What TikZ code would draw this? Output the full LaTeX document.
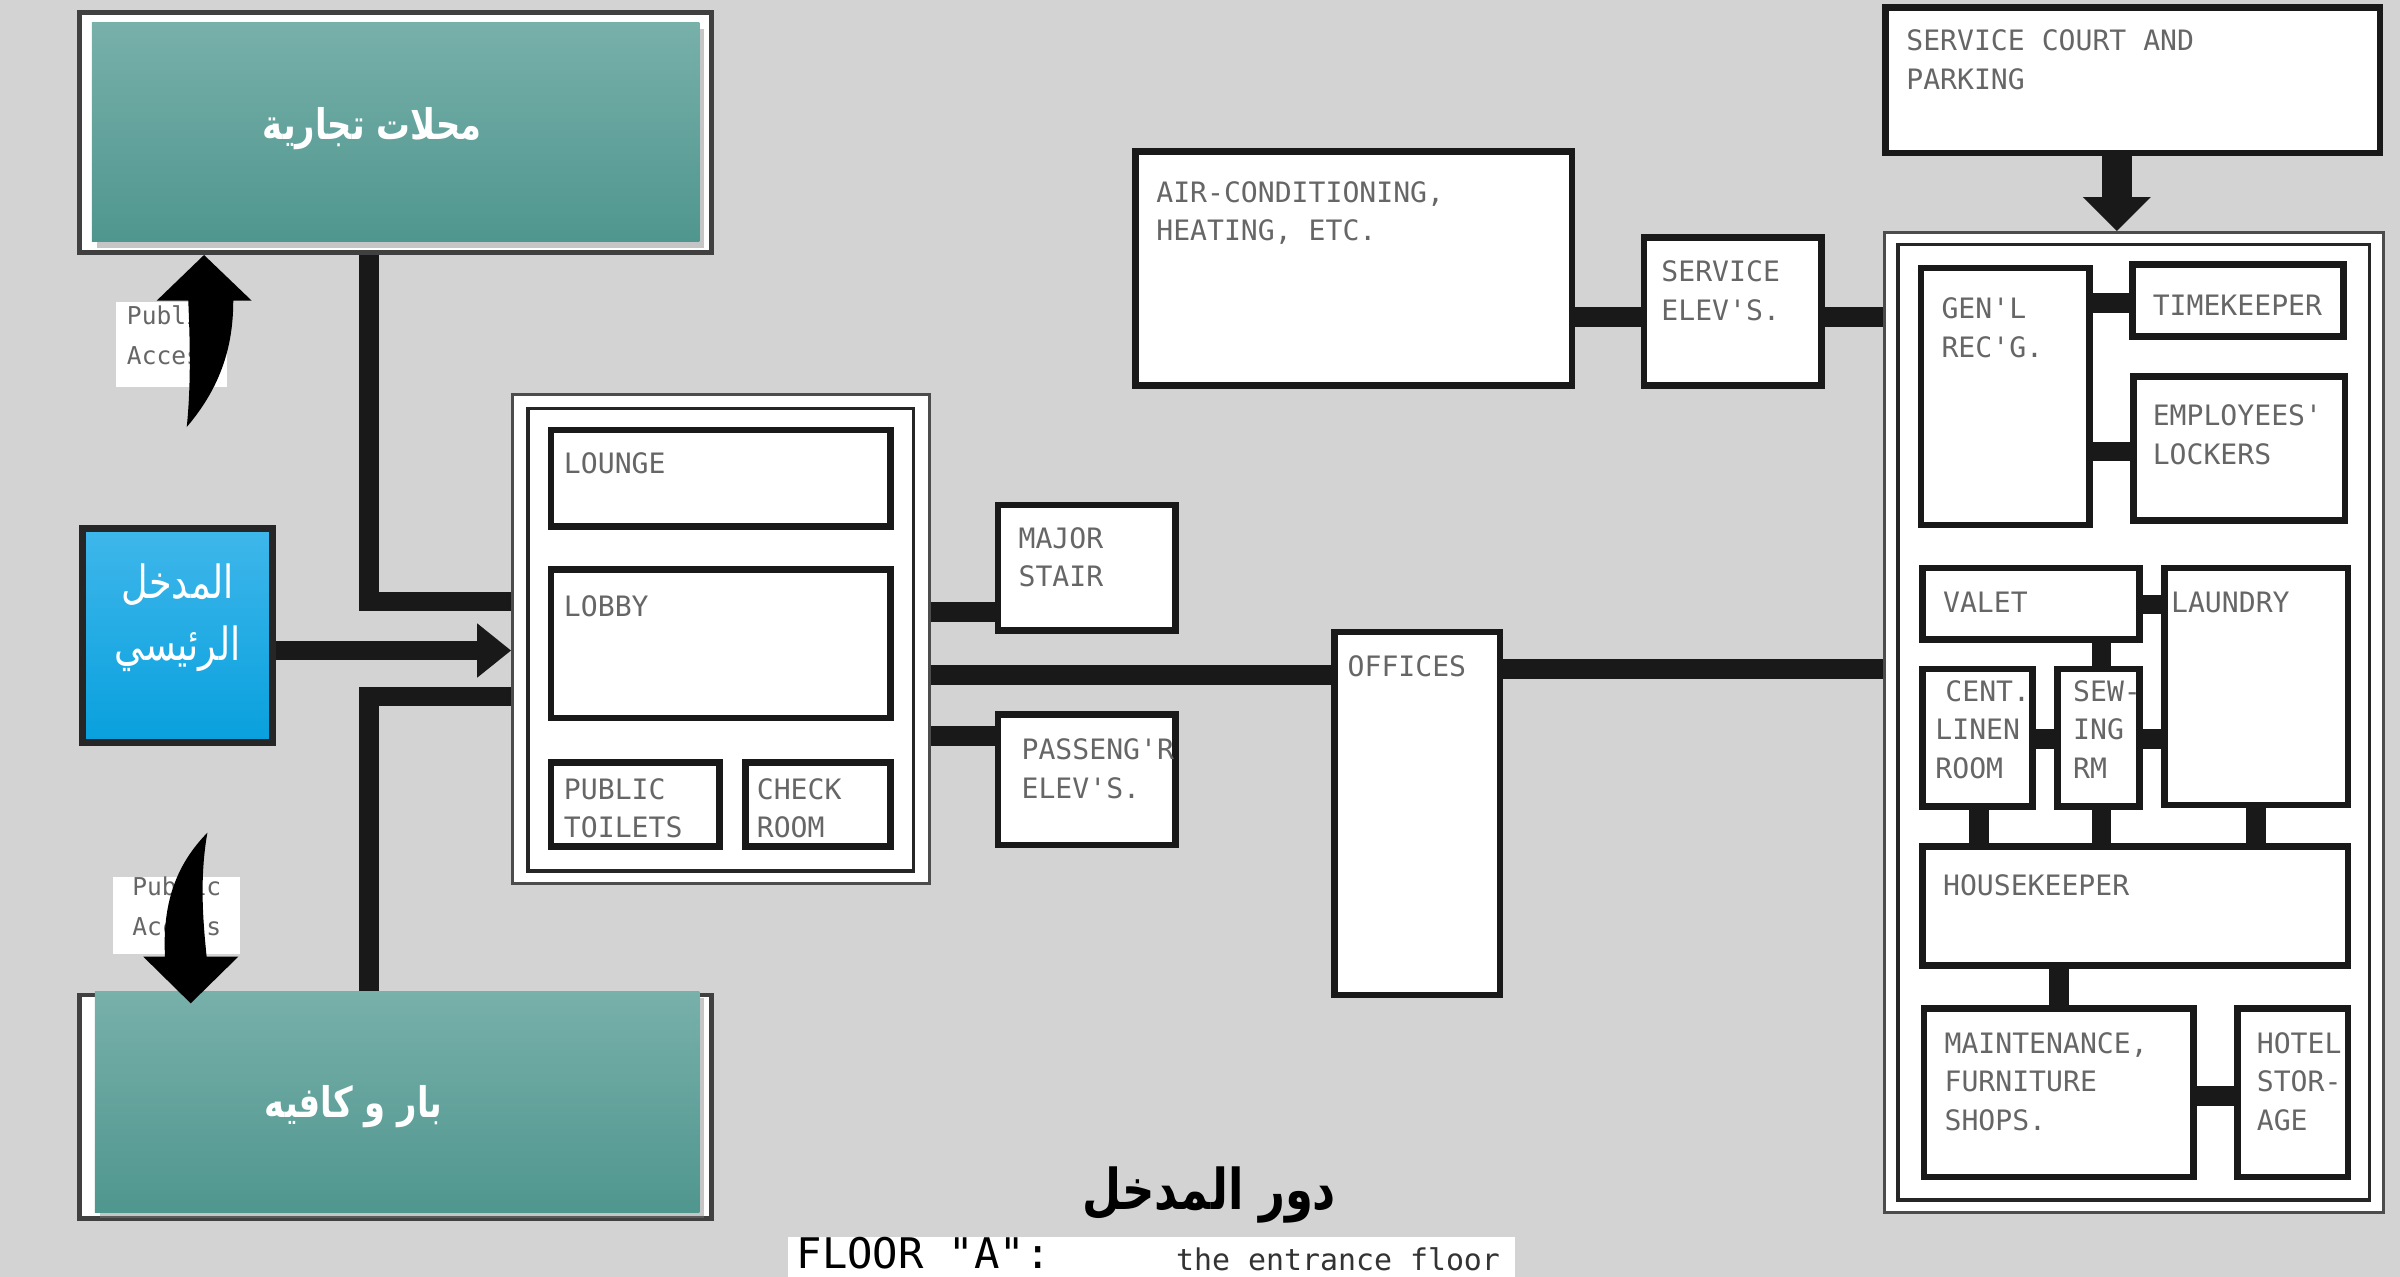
\documentclass[tikz,border=0pt]{standalone}
\usepackage{fontspec}
\usetikzlibrary{fit,arrows.meta,shadows}
\TeXXeTstate=1
\newfontfamily\arabicfont[Script=Arabic, FakeStretch=0.8]{DejaVu Sans}
\newfontfamily\planfont{DejaVu Sans Mono}

\definecolor{groundgray}{HTML}{D3D3D3}
\definecolor{tealtop}{HTML}{78B0AA}
\definecolor{tealbot}{HTML}{4F968F}
\definecolor{bluetop}{HTML}{3FB7EB}
\definecolor{bluebot}{HTML}{08A0DD}

\tikzset{
    room/.style={draw=black!90, line width=1.9pt, fill=white, inner sep=0pt},
    frame/.style={draw=black!70, line width=0.9pt, fill=white, inner sep=0pt},
    tag/.style={anchor=north west, inner sep=0pt, align=left, text=black!60,
        font=\planfont\fontsize{8}{11}\selectfont},
    link/.style={draw=black!90, line width=5.6pt},
    shopbox/.style={inner sep=0pt, top color=tealtop, bottom color=tealbot,
        drop shadow={shadow xshift=0.5mm, shadow yshift=-0.6mm, opacity=0.45}},
    entrybox/.style={draw=black!85, line width=2pt, inner sep=0pt, top color=bluetop,
        bottom color=bluebot, text=white, align=left,
        font=\arabicfont\fontsize{13}{17.8}\selectfont},
    arabtag/.style={text=white, inner sep=0pt, font=\arabicfont\bfseries\fontsize{12}{14}\selectfont},
    access/.style={fill=white, inner sep=0pt, align=center, text=black!60,
        font=\planfont\fontsize{7}{11.3}\selectfont},
}

\begin{document}
\begin{tikzpicture}[x=0.15306mm, y=-0.15306mm]
    \clip (0,0) rectangle (1568,834);
    \fill[groundgray] (0,0) rectangle (1568,834);

    % levels of the connecting bands
    \coordinate (spine) at (241,0);
    \coordinate (lv-lounge) at (0,393);
    \coordinate (lv-entry) at (0,425);
    \coordinate (lv-bar) at (0,455);
    \coordinate (lv-stair) at (0,400);
    \coordinate (lv-office) at (0,441);
    \coordinate (lv-lift) at (0,481);
    \coordinate (lv-service) at (0,437);
    \coordinate (lv-plant) at (0,207);
    \coordinate (court-x) at (1383,0);

    % shops, bar and main entrance
    \node[frame, draw=black!75, line width=1.3pt, fit={(52,8) (465,165)}] (shopsfr) {};
    \node[frame, draw=black!75, line width=1.3pt, fit={(52,650) (465,796)}] (barfr) {};
    \node[frame, fit={(335,258) (607,577)}] (lobbyfr) {};
    \node[frame, draw=black!85, fit={(345,267) (597,569)}] (lobbyin) {};
    \draw[link] (shopsfr.south -| spine) |- (lobbyfr.west |- lv-lounge);
    \draw[link] (barfr.north -| spine) |- (lobbyfr.west |- lv-bar);
    \node[shopbox, fit={(60,15) (457,158)}] (shops) {};
    \node[shopbox, fit={(62,648) (457,792)}] (bar) {};
    \node[arabtag] (shops-t) at (243,84) {\beginR محلات تجارية\endR};
    \node[arabtag] (bar-t) at (231,723) {\beginR بار و كافيه\endR};
    \node[entrybox, fit={(54,345) (178,485)}] (entrance) {\beginR المدخل\endR\\\beginR الرئيسي\endR};

    % public access notes
    \node[access, fit={(76,197) (148,253)}] (pa-up) {Public\\Access};
    \node[access, fit={(74,573) (157,623)}] (pa-down) {Public\\Access};

    % lobby group
    \node[room, fit={(360,281) (582,344)}] (lounge) {};
    \node[room, fit={(360,372) (582,469)}] (lobby) {};
    \node[room, fit={(360,498) (470,553)}] (toilets) {};
    \node[room, fit={(487,498) (582,553)}] (checkroom) {};
    \node[room, fit={(652,330) (768,412)}] (stair) {};
    \node[room, fit={(652,467) (768,552)}] (lifts) {};
    \node[room, fit={(872,413) (980,650)}] (offices) {};

    \draw[link, -{Triangle[length=3.4mm, width=5.2mm]}] (entrance.east |- lv-entry) -- (lobbyfr.west |- lv-entry);
    \draw[link] (lobbyfr.east |- lv-stair) -- (stair.west |- lv-stair);
    \draw[link] (lobbyfr.east |- lv-office) -- (offices.west |- lv-office);
    \draw[link] (lobbyfr.east |- lv-lift) -- (lifts.west |- lv-lift);

    % plant and service lifts
    \node[room, fit={(742,99) (1027,252)}] (aircon) {};
    \node[room, fit={(1074,155) (1190,252)}] (svclift) {};
    \node[room, fit={(1232,5) (1555,100)}] (court) {};

    % service group
    \node[frame, fit={(1231,152) (1557,792)}] (svcfr) {};
    \node[frame, draw=black!85, fit={(1240,160) (1548,784)}] (svcin) {};
    \node[room, fit={(1255,175) (1365,343)}] (genl) {};
    \node[room, fit={(1393,173) (1531,220)}] (timekeep) {};
    \node[room, fit={(1394,246) (1532,340)}] (lockers) {};
    \node[room, fit={(1256,371) (1398,418)}] (valet) {};
    \node[room, fit={(1414,371) (1534,526)}] (laundry) {};
    \node[room, fit={(1256,437) (1328,527)}] (linen) {};
    \node[room, fit={(1344,437) (1398,527)}] (sewing) {};
    \node[room, fit={(1256,553) (1534,631)}] (housekeep) {};
    \node[room, fit={(1257,659) (1433,769)}] (maint) {};
    \node[room, fit={(1462,659) (1534,769)}] (storage) {};

    \draw[link] (aircon.east |- lv-plant) -- (svclift.west |- lv-plant);
    \draw[link] (svclift.east |- lv-plant) -- (svcfr.west |- lv-plant);
    \draw[link] (offices.east |- lv-service) -- (svcfr.west |- lv-service);
    \draw[draw=black!90, line width=8.5pt, -{Triangle[length=3.4mm, width=6.6mm]}] (court.south -| court-x) -- (svcfr.north -| court-x);

    \coordinate (lv-time) at (0,198);
    \coordinate (lv-locker) at (0,295);
    \coordinate (lv-valet) at (0,395);
    \coordinate (lv-sew) at (0,483);
    \coordinate (lv-store) at (0,716);
    \coordinate (x-sew) at (1373,0);
    \coordinate (x-linen) at (1293,0);
    \coordinate (x-laundry) at (1474,0);
    \coordinate (x-hk) at (1345,0);
    \draw[link] (genl.east |- lv-time) -- (timekeep.west |- lv-time);
    \draw[link] (genl.east |- lv-locker) -- (lockers.west |- lv-locker);
    \draw[link] (valet.east |- lv-valet) -- (laundry.west |- lv-valet);
    \draw[link] (valet.south -| x-sew) -- (sewing.north -| x-sew);
    \draw[link] (linen.east |- lv-sew) -- (sewing.west |- lv-sew);
    \draw[link] (sewing.east |- lv-sew) -- (laundry.west |- lv-sew);
    \draw[link] (linen.south -| x-linen) -- (housekeep.north -| x-linen);
    \draw[link] (sewing.south -| x-sew) -- (housekeep.north -| x-sew);
    \draw[link] (laundry.south -| x-laundry) -- (housekeep.north -| x-laundry);
    \draw[link] (housekeep.south -| x-hk) -- (maint.north -| x-hk);
    \draw[link] (maint.east |- lv-store) -- (storage.west |- lv-store);

    % room names
    \node[tag] (lounge-t) at (368,295) {LOUNGE};
    \node[tag] (lobby-t) at (368,389) {LOBBY};
    \node[tag] (toilets-t) at (368,508) {PUBLIC\\TOILETS};
    \node[tag] (checkroom-t) at (494,508) {CHECK\\ROOM};
    \node[tag] (stair-t) at (665,344) {MAJOR\\STAIR};
    \node[tag] (lifts-t) at (667,482) {PASSENG'R\\ELEV'S.};
    \node[tag] (offices-t) at (880,428) {OFFICES};
    \node[tag] (aircon-t) at (755,118) {AIR-CONDITIONING,\\HEATING, ETC.};
    \node[tag] (svclift-t) at (1085,170) {SERVICE\\ELEV'S.};
    \node[tag] (court-t) at (1245,19) {SERVICE COURT AND\\PARKING};
    \node[tag] (genl-t) at (1268,194) {GEN'L\\REC'G.};
    \node[tag] (timekeep-t) at (1406,192) {TIMEKEEPER};
    \node[tag] (lockers-t) at (1406,264) {EMPLOYEES'\\LOCKERS};
    \node[tag] (valet-t) at (1269,386) {VALET};
    \node[tag] (laundry-t) at (1418,386) {LAUNDRY};
    \node[tag] (linen-t) at (1264,444) {\hspace{1mm}CENT.\\LINEN\\ROOM};
    \node[tag] (sewing-t) at (1354,444) {SEW-\\ING\\RM};
    \node[tag] (housekeep-t) at (1269,571) {HOUSEKEEPER};
    \node[tag] (maint-t) at (1270,674) {MAINTENANCE,\\FURNITURE\\SHOPS.};
    \node[tag] (storage-t) at (1474,674) {HOTEL\\STOR-\\AGE};

    % curved public access arrows
    \fill[black] (133.3,166.6) -- (164.4,196.4) -- (152.4,196.4)
        .. controls (152.4,225) and (145,252) .. (122,279)
        .. controls (125,250) and (124,220) .. (123,196.4) -- (102.4,196.4) -- cycle;
    \fill[black] (124.6,655.5) -- (155.7,625) -- (135,625)
        .. controls (133,605) and (130,575) .. (135.5,544)
        .. controls (115,565) and (106,590) .. (107.8,625) -- (93.6,625) -- cycle;

    % caption
    \node[font=\arabicfont\bfseries\fontsize{16}{18}\selectfont] (title) at (790,781) {\beginR دور المدخل\endR};
    \fill[white] (515,808) rectangle (990,834);
    \node[anchor=base west, inner sep=0pt, font=\planfont\fontsize{12}{14}\selectfont] (floor-a) at (520,829) {FLOOR "A":};
    \node[anchor=base west, inner sep=0pt, text=black!80, font=\planfont\fontsize{8.5}{10}\selectfont] (floor-b) at (768,830) {the entrance floor};
\end{tikzpicture}
\end{document}
